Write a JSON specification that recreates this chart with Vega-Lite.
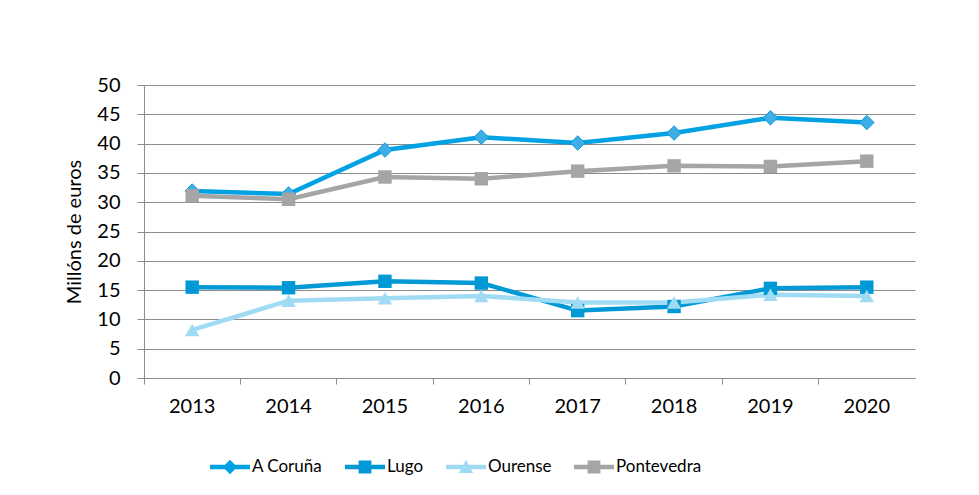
{
  "$schema": "https://vega.github.io/schema/vega-lite/v6.json",
  "width": 771,
  "height": 293,
  "autosize": {"type": "none"},
  "padding": {"left": 144, "top": 85, "right": 64, "bottom": 117},
  "background": "white",
  "config": {
    "view": {"stroke": null},
    "font": "Lato",
    "axis": {"labelFont": "Lato", "titleFont": "Lato", "labelColor": "#000000", "titleColor": "#000000", "titleFontWeight": "normal"},
    "legend": {"labelFont": "Lato"}
  },
  "data": {
    "values": [
      {"year": "2013", "series": "A Coruña", "value": 31.9},
      {"year": "2014", "series": "A Coruña", "value": 31.4},
      {"year": "2015", "series": "A Coruña", "value": 38.9},
      {"year": "2016", "series": "A Coruña", "value": 41.1},
      {"year": "2017", "series": "A Coruña", "value": 40.1},
      {"year": "2018", "series": "A Coruña", "value": 41.8},
      {"year": "2019", "series": "A Coruña", "value": 44.4},
      {"year": "2020", "series": "A Coruña", "value": 43.6},
      {"year": "2013", "series": "Lugo", "value": 15.5},
      {"year": "2014", "series": "Lugo", "value": 15.4},
      {"year": "2015", "series": "Lugo", "value": 16.5},
      {"year": "2016", "series": "Lugo", "value": 16.2},
      {"year": "2017", "series": "Lugo", "value": 11.5},
      {"year": "2018", "series": "Lugo", "value": 12.2},
      {"year": "2019", "series": "Lugo", "value": 15.3},
      {"year": "2020", "series": "Lugo", "value": 15.5},
      {"year": "2013", "series": "Ourense", "value": 8.2},
      {"year": "2014", "series": "Ourense", "value": 13.2},
      {"year": "2015", "series": "Ourense", "value": 13.6},
      {"year": "2016", "series": "Ourense", "value": 14.0},
      {"year": "2017", "series": "Ourense", "value": 12.9},
      {"year": "2018", "series": "Ourense", "value": 12.9},
      {"year": "2019", "series": "Ourense", "value": 14.2},
      {"year": "2020", "series": "Ourense", "value": 14.0},
      {"year": "2013", "series": "Pontevedra", "value": 31.1},
      {"year": "2014", "series": "Pontevedra", "value": 30.5},
      {"year": "2015", "series": "Pontevedra", "value": 34.3},
      {"year": "2016", "series": "Pontevedra", "value": 34.0},
      {"year": "2017", "series": "Pontevedra", "value": 35.3},
      {"year": "2018", "series": "Pontevedra", "value": 36.2},
      {"year": "2019", "series": "Pontevedra", "value": 36.1},
      {"year": "2020", "series": "Pontevedra", "value": 37.0}
    ]
  },
  "encoding": {
    "x": {
      "field": "year",
      "type": "ordinal",
      "title": null,
      "scale": {"type": "band", "paddingInner": 0, "paddingOuter": 0},
      "axis": {
        "bandPosition": 0,
        "labelAngle": 0,
        "labelFontSize": 20,
        "labelPadding": 12,
        "tickSize": 6,
        "tickColor": "#8C8C8C",
        "domainColor": "#8C8C8C",
        "grid": false
      }
    },
    "y": {
      "field": "value",
      "type": "quantitative",
      "title": "Millóns de euros",
      "scale": {"domain": [0, 50], "nice": false},
      "axis": {
        "values": [0, 5, 10, 15, 20, 25, 30, 35, 40, 45, 50],
        "labelFontSize": 20,
        "labelPadding": 17,
        "tickSize": 7,
        "tickColor": "#8C8C8C",
        "domainColor": "#8C8C8C",
        "gridColor": "#8C8C8C",
        "gridOpacity": 1,
        "grid": true,
        "titleFontSize": 20,
        "titlePadding": 12
      }
    }
  },
  "layer": [
    {
      "mark": {"type": "line", "strokeWidth": 4.5},
      "encoding": {
        "stroke": {
          "field": "series",
          "type": "nominal",
          "scale": {"range": ["#00A2E3", "#0099D5", "#A0DBF4", "#A5A5A5"]},
          "legend": null
        }
      }
    },
    {
      "transform": [{"filter": {"field": "series", "equal": "A Coruña"}}],
      "mark": {"type": "point", "shape": "diamond", "filled": true, "fill": "#3DAFE6", "stroke": "#0E9CDA", "strokeWidth": 1, "size": 210, "opacity": 1}
    },
    {
      "transform": [{"filter": {"field": "series", "equal": "Lugo"}}],
      "mark": {"type": "point", "shape": "square", "filled": true, "fill": "#0099D5", "size": 180, "opacity": 1}
    },
    {
      "transform": [{"filter": {"field": "series", "equal": "Ourense"}}],
      "mark": {"type": "point", "shape": "triangle-up", "filled": true, "fill": "#A0DBF4", "size": 210, "opacity": 1}
    },
    {
      "transform": [{"filter": {"field": "series", "equal": "Pontevedra"}}],
      "mark": {"type": "point", "shape": "square", "filled": true, "fill": "#A5A5A5", "size": 180, "opacity": 1}
    },
    {
      "transform": [{"filter": {"field": "value", "lt": -1}}],
      "mark": {"type": "point", "filled": true, "opacity": 1},
      "encoding": {
        "color": {
          "field": "series",
          "type": "nominal",
          "scale": {"domain": ["A Coruña", "Lugo", "Ourense", "Pontevedra"], "range": ["#00A2E3", "#0099D5", "#A0DBF4", "#A5A5A5"]},
          "legend": {
            "title": null,
            "orient": "none",
            "legendX": 66,
            "legendY": 362,
            "direction": "horizontal",
            "symbolSize": 1600,
            "symbolStrokeWidth": 0,
            "symbolOpacity": 1,
            "labelFontSize": 17,
            "labelOffset": 2,
            "columnPadding": 22
          }
        },
        "shape": {
          "field": "series",
          "type": "nominal",
          "scale": {
            "domain": ["A Coruña", "Lugo", "Ourense", "Pontevedra"],
            "range": [
              "M-1,-0.11H1V0.11H-1Z M0,-0.36L0.36,0L0,0.36L-0.36,0Z",
              "M-1,-0.11H1V0.11H-1Z M-0.32,-0.32H0.32V0.32H-0.32Z",
              "M-1,-0.11H1V0.11H-1Z M0,-0.36L0.36,0.3H-0.36Z",
              "M-1,-0.11H1V0.11H-1Z M-0.32,-0.32H0.32V0.32H-0.32Z"
            ]
          },
          "legend": {
            "title": null,
            "orient": "none",
            "legendX": 66,
            "legendY": 362,
            "direction": "horizontal",
            "symbolSize": 1600,
            "symbolStrokeWidth": 0,
            "symbolOpacity": 1,
            "labelFontSize": 17,
            "labelOffset": 2,
            "columnPadding": 22
          }
        }
      }
    }
  ]
}
